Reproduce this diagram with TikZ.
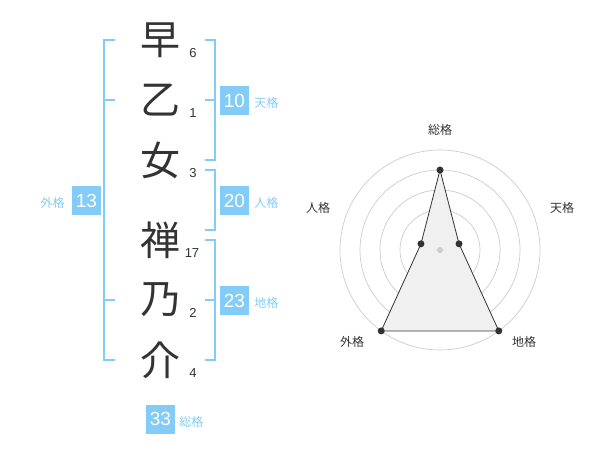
\documentclass[tikz,border=0pt]{standalone}
\usepackage{fontspec}
\setmainfont{Liberation Sans}
\newfontfamily\jp{Noto Sans CJK JP}
\usetikzlibrary{positioning}
\definecolor{kaku}{HTML}{84CCF8}
\definecolor{ink}{HTML}{333333}

\begin{document}
\begin{tikzpicture}[x=1pt, y=-1pt,
      kanji/.style={text=ink, inner sep=0pt, font=\jp\fontsize{40}{40}\selectfont},
      strk/.style={text=ink, inner sep=0pt, font=\fontsize{13}{13}\selectfont},
      box/.style={fill=kaku, text=white, inner sep=0pt, minimum size=29pt,
                  font=\fontsize{19}{19}\selectfont},
      lbl/.style={text=kaku, inner sep=0pt, font=\jp\fontsize{12}{12}\selectfont},
      brk/.style={draw=kaku, line width=2pt},
      ring/.style={draw=black!20, line width=0.7pt},
      axl/.style={text=ink, inner sep=0pt, font=\jp\fontsize{12}{12}\selectfont},
      dot/.style={circle, fill=ink, inner sep=0pt, minimum size=7pt}]
    \useasboundingbox (0,0) rectangle (600,470);

    % name and stroke counts
    \node[kanji] (c1) at (160,40) {早};
    \node[kanji] (c2) at (160,100) {乙};
    \node[kanji] (c3) at (160,160) {女};
    \node[kanji] (c4) at (160,240) {禅};
    \node[kanji] (c5) at (160,300) {乃};
    \node[kanji] (c6) at (160,360) {介};
    \node[strk] (n1) at ([shift={(33pt,-13pt)}]c1.center) {6};
    \node[strk] (n2) at ([shift={(33pt,-13pt)}]c2.center) {1};
    \node[strk] (n3) at ([shift={(33pt,-13pt)}]c3.center) {3};
    \node[strk] (n4) at ([shift={(32pt,-13pt)}]c4.center) {17};
    \node[strk] (n5) at ([shift={(33pt,-13pt)}]c5.center) {2};
    \node[strk] (n6) at ([shift={(33pt,-13pt)}]c6.center) {4};

    % brackets
    \draw[brk] ([xshift=45pt]c1.center) -- ([xshift=55pt]c1.center)
               -- ([xshift=55pt]c3.center) -- ([xshift=45pt]c3.center);
    \draw[brk] ([xshift=45pt]c2.center) -- ([xshift=55pt]c2.center);
    \draw[brk] ([shift={(45pt,-10pt)}]c3.center) -- ([shift={(55pt,-10pt)}]c3.center)
               -- ([shift={(55pt,10pt)}]c4.center) -- ([shift={(45pt,10pt)}]c4.center);
    \draw[brk] ([xshift=45pt]c4.center) -- ([xshift=55pt]c4.center)
               -- ([xshift=55pt]c6.center) -- ([xshift=45pt]c6.center);
    \draw[brk] ([xshift=45pt]c5.center) -- ([xshift=55pt]c5.center);
    \draw[brk] ([xshift=-45pt]c1.center) -- ([xshift=-56pt]c1.center)
               -- ([xshift=-56pt]c6.center) -- ([xshift=-45pt]c6.center);
    \draw[brk] ([xshift=-45pt]c2.center) -- ([xshift=-56pt]c2.center);
    \draw[brk] ([xshift=-45pt]c5.center) -- ([xshift=-56pt]c5.center);

    % scores
    \node[box] (ten) at (234.5,100.5) {10};
    \node[box] (jin) at (234.5,200.5) {20};
    \node[box] (chi) at (234.5,300.5) {23};
    \node[box] (gai) at (86.5,201) {13};
    \node[box] (sou) at (160.5,419) {33};
    \node[lbl, right=5pt of ten, yshift=-2pt] (lten) {天格};
    \node[lbl, right=5pt of jin, yshift=-2pt] (ljin) {人格};
    \node[lbl, right=5pt of chi, yshift=-2pt] (lchi) {地格};
    \node[lbl, left=7pt of gai, yshift=-2pt] (lgai) {外格};
    \node[lbl, right=4pt of sou, yshift=-3pt] (lsou) {総格};

    % radar chart
    \coordinate (ctr) at (440,250);
    \foreach \r in {20,40,...,100}
      \draw[ring] (ctr) circle[radius=\r pt];
    \foreach \a/\r/\n in {90/80/sou, 18/20/ten, 306/100/chi, 234/100/gai, 162/20/jin}
      \coordinate (p-\n) at ([shift={(\a:\r pt)}]ctr);
    \draw[ink, fill=black!6, line width=0.8pt]
      (p-sou) -- (p-ten) -- (p-chi) -- (p-gai) -- (p-jin) -- cycle;
    \foreach \n in {sou, ten, chi, gai, jin}
      \node[dot] (d-\n) at (p-\n) {};
    \node[dot, fill=black!20, minimum size=6pt] (mid) at (ctr) {};
    \node[axl] (a-sou) at (440,130) {総格};
    \node[axl] (a-ten) at (562,208) {天格};
    \node[axl] (a-jin) at (318,208) {人格};
    \node[axl] (a-gai) at (352,342) {外格};
    \node[axl] (a-chi) at (524,342) {地格};
  \end{tikzpicture}
\end{document}
